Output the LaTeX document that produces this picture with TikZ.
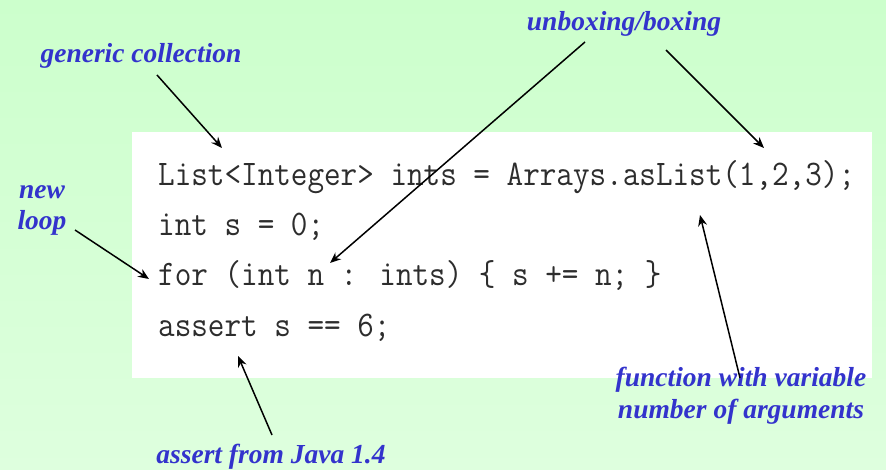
\documentclass[tikz,border=0pt]{standalone}
\usepackage{fontspec}
\usepackage{graphicx}
\setmainfont{Liberation Serif}
\usetikzlibrary{arrows.meta}
\definecolor{bgtop}{RGB}{204,255,204}
\definecolor{bgbot}{RGB}{222,255,222}
\definecolor{notecol}{RGB}{51,51,204}
\definecolor{codecol}{RGB}{45,45,45}
\newcommand{\codeline}[1]{\scalebox{0.895}[1]{\fontsize{36}{40}\ttfamily #1}}
\tikzset{
  note/.style={font=\fontsize{27.5}{31.5}\selectfont\bfseries\itshape, text=notecol, inner sep=0pt, align=center},
  code/.style={text=codecol, inner sep=0pt, anchor=base west},
  pointer/.style={draw=black, line width=1.5pt, -{Stealth[length=11pt,width=9pt]}}
}
\begin{document}
\begin{tikzpicture}[x=1pt,y=-1pt]
  % background
  \shade[top color=bgtop, bottom color=bgbot] (0,0) rectangle (886,470);
  \useasboundingbox (0,0) rectangle (886,470);
  % code panel
  \fill[white] (132,132) rectangle (872,378);
  \node[code] (l1) at (158,186) {\codeline{List<Integer> ints = Arrays.asList(1,2,3);}};
  \node[code] (l2) at (158,236) {\codeline{int s = 0;}};
  \node[code] (l3) at (158,286) {\codeline{for (int n : ints) \{ s += n; \}}};
  \node[code] (l4) at (158,337) {\codeline{assert s == 6;}};
  % annotations
  \node[note, anchor=base] (gc) at (141,63) {generic collection};
  \node[note, anchor=base] (ub) at (624,31) {unboxing/boxing};
  \node[note, anchor=base] (nl) at (42,230) {new\\loop};
  \node[note, anchor=base] (af) at (271,463) {assert from Java 1.4};
  \node[note, anchor=base] (fv) at (741,418) {function with variable\\number of arguments};
  % pointer ends
  \coordinate (gcs) at (157,75);   \coordinate (gct) at (222,148);
  \coordinate (ubs1) at (585,42);  \coordinate (ubt1) at (330,263);
  \coordinate (ubs2) at (666,50);  \coordinate (ubt2) at (764,148);
  \coordinate (nls) at (75,230);   \coordinate (nlt) at (149,279);
  \coordinate (afs) at (272,435);  \coordinate (aft) at (238,356);
  \coordinate (fvs) at (740,378);  \coordinate (fvt) at (700,215);
  \draw[pointer] (gcs) -- (gct);
  \draw[pointer] (ubs1) -- (ubt1);
  \draw[pointer] (ubs2) -- (ubt2);
  \draw[pointer] (nls) -- (nlt);
  \draw[pointer] (afs) -- (aft);
  \draw[pointer] (fvs) -- (fvt);
\end{tikzpicture}
\end{document}
